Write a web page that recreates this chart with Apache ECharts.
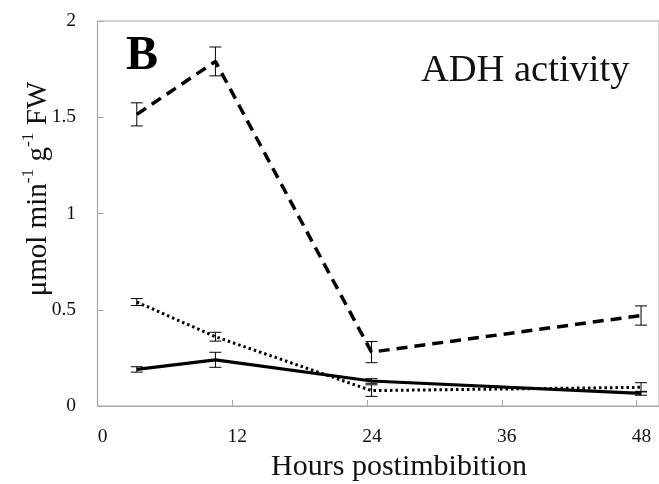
<!DOCTYPE html>
<html>
<head>
<meta charset="utf-8">
<script src="https://cdn.jsdelivr.net/npm/echarts@6/dist/echarts.min.js"></script>
<style>
  html, body { margin: 0; padding: 0; background: #fff; }
  #chart { width: 659px; height: 484px; }
</style>
</head>
<body>
<div id="chart"></div>
<script>
// Sampling times (hours postimbibition)
const hours = [3.5, 10.5, 24.4, 48.4];

// ADH activity, µmol min-1 g-1 FW: means and standard errors
const dashedMean = [1.515, 1.79, 0.28, 0.47];
const dashedErr  = [0.06, 0.075, 0.055, 0.05];
const dottedMean = [0.54, 0.36, 0.08, 0.097];
const dottedErr  = [0.018, 0.023, 0.03, 0.024];
const solidMean  = [0.19, 0.24, 0.13, 0.066];
const solidErr   = [0.014, 0.039, 0.012, 0.01];

// Axis ticks
const xTicks = [0, 12, 24, 36, 48];
const yTicks = [0, 0.5, 1, 1.5, 2];

const FONT = 'Liberation Serif';
const AXIS_GREY = '#a6a6a6';
const TEXT = '#111';

function pairs(xs, ys) { return xs.map((x, i) => [x, ys[i]]); }
function bars(xs, ys, es) { return xs.map((x, i) => [x, ys[i] - es[i], ys[i] + es[i]]); }

// Vertical error bar with caps, positioned through the axis scales
function renderErrorBar(params, api) {
  const x = api.value(0);
  const top = api.coord([x, api.value(2)]);
  const bot = api.coord([x, api.value(1)]);
  const cap = 6;
  const st = { stroke: '#000', lineWidth: 1 };
  return {
    type: 'group',
    children: [
      { type: 'line', shape: { x1: top[0], y1: top[1], x2: bot[0], y2: bot[1] }, style: st },
      { type: 'line', shape: { x1: top[0] - cap, y1: top[1], x2: top[0] + cap, y2: top[1] }, style: st },
      { type: 'line', shape: { x1: bot[0] - cap, y1: bot[1], x2: bot[0] + cap, y2: bot[1] }, style: st }
    ]
  };
}

function lineSeries(name, data, width, dash) {
  return {
    name, type: 'line', data, showSymbol: false, symbol: 'none', z: 3,
    lineStyle: { color: '#000', width, type: dash, cap: 'butt' },
    animation: false
  };
}
function errSeries(name, data) {
  return { name, type: 'custom', renderItem: renderErrorBar, data, z: 4, animation: false };
}

const chart = echarts.init(document.getElementById('chart'), null, { renderer: 'canvas' });
chart.setOption({
  animation: false,
  grid: {
    left: 97.5, top: 21, right: -6.4, bottom: 78,
    show: true, borderColor: AXIS_GREY, borderWidth: 1
  },
  xAxis: {
    type: 'value', min: xTicks[0], max: 50, interval: xTicks[1] - xTicks[0],
    axisLine: { lineStyle: { color: AXIS_GREY, width: 1.2 } },
    axisTick: { inside: true, length: 6, lineStyle: { color: AXIS_GREY } },
    splitLine: { show: false },
    axisLabel: {
      color: TEXT, fontFamily: FONT, fontSize: 19.5, margin: 21,
      padding: [0, 0, 0, 10], showMaxLabel: false,
      formatter: v => (xTicks.includes(v) ? String(v) : '')
    }
  },
  yAxis: {
    type: 'value', min: yTicks[0], max: yTicks[yTicks.length - 1], interval: yTicks[1] - yTicks[0],
    axisLine: { show: true, lineStyle: { color: AXIS_GREY, width: 1.2 } },
    axisTick: { show: true, inside: true, length: 6, lineStyle: { color: AXIS_GREY } },
    splitLine: { show: false },
    axisLabel: { color: TEXT, fontFamily: FONT, fontSize: 19.5, margin: 21.5 }
  },
  series: [
    lineSeries('dashed', pairs(hours, dashedMean), 3.5, [11, 7]),
    lineSeries('dotted', pairs(hours, dottedMean), 3, [2.5, 3]),
    lineSeries('solid', pairs(hours, solidMean), 3.2, 'solid'),
    errSeries('dashed SE', bars(hours, dashedMean, dashedErr)),
    errSeries('dotted SE', bars(hours, dottedMean, dottedErr)),
    errSeries('solid SE', bars(hours, solidMean, solidErr))
  ],
  graphic: [
    {
      type: 'text', left: 126, top: 33, z: 10,
      style: { text: 'B', fontFamily: FONT, fontWeight: 'bold', fontSize: 48, fill: '#000' }
    },
    {
      type: 'text', x: 421, y: 71, z: 10,
      style: { text: 'ADH activity', fontFamily: FONT, fontSize: 38.5, fill: TEXT,
               textAlign: 'left', textVerticalAlign: 'middle' }
    },
    {
      type: 'text', x: 399, y: 467, z: 10,
      style: { text: 'Hours postimbibition', fontFamily: FONT, fontSize: 30, fill: TEXT,
               textAlign: 'center', textVerticalAlign: 'middle' }
    },
    {
      type: 'text', x: 36, y: 189, rotation: Math.PI / 2, z: 10,
      style: {
        text: '{t|μmol min}{s|-1}{t| g}{s|-1}{t| FW}',
        fontFamily: FONT, fill: TEXT, textAlign: 'center', textVerticalAlign: 'middle',
        rich: {
          t: { fontFamily: FONT, fontSize: 29, fill: TEXT, verticalAlign: 'bottom', lineHeight: 34 },
          s: { fontFamily: FONT, fontSize: 17.5, fill: TEXT, verticalAlign: 'top', lineHeight: 34 }
        }
      }
    }
  ]
});
</script>
</body>
</html>
